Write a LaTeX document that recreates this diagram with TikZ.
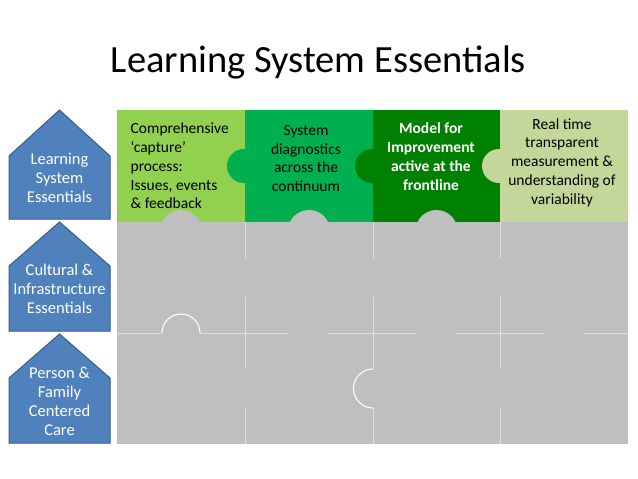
\documentclass[tikz,border=0pt]{standalone}
\usepackage{fontspec}
\setmainfont{Carlito}
\definecolor{lsgreen}{HTML}{92D050}
\definecolor{diaggreen}{HTML}{00B050}
\definecolor{mfigreen}{HTML}{008000}
\definecolor{rtgreen}{HTML}{C4D79B}
\definecolor{piecegray}{HTML}{BFBFBF}
\definecolor{tagblue}{HTML}{4F81BD}
\definecolor{tagedge}{HTML}{385D8A}

\begin{document}
\begin{tikzpicture}[
  x=1pt,y=-1pt,
  tag/.style={fill=tagblue,draw=tagedge,line width=1pt,line join=miter},
  tagtext/.style={align=center,text=white,inner sep=0pt,
    font=\fontsize{16.5}{19}\selectfont},
  cell/.style={inner sep=0pt,font=\fontsize{15.5}{18.8}\selectfont},
  seam/.style={draw=white,line width=.7pt,opacity=.5},
  knob/.style={draw=white,line width=1.1pt}]
\fill[white] (0,0) rectangle (638,479);
\useasboundingbox (0,0) rectangle (638,479);
\node[font=\fontsize{38.5}{46}\selectfont,anchor=base] (title) at (318.5,72)
 {Learning System Essentials};
% row tags
\draw[tag] (9,219)--(9,156)--(59.5,110)--(110,156)--(110,219)--cycle;
\draw[tag] (9,331)--(9,266)--(59.5,222)--(110,266)--(110,331)--cycle;
\draw[tag] (9,443)--(9,378)--(59.5,334)--(110,378)--(110,443)--cycle;
\node[tagtext] (lsetag) at (59.5,178) {Learning\\System\\Essentials};
\node[tagtext] (cietag) at (59.5,289) {Cultural \&\\Infrastructure\\Essentials};
\node[tagtext] (pfctag) at (59.5,401) {Person \&\\Family\\Centered\\Care};
% puzzle pieces
\fill[piecegray] (117,222) rectangle (628,444);
\fill[lsgreen] (117,110) rectangle (245,222);
\fill[diaggreen] (245,110) rectangle (373,222);
\fill[mfigreen] (373,110) rectangle (500,222);
\fill[rtgreen] (500,110) rectangle (628,222);
\fill[diaggreen] (244,166) circle[radius=17pt];
\fill[mfigreen] (372,166) circle[radius=17pt];
\fill[rtgreen] (499,166) circle[radius=17pt];
\foreach \cx in {181,309,436.5}
  \fill[piecegray] (\cx,231) circle[radius=21pt];
% seams
\foreach \sx in {245,373,500}
  \draw[seam] (\sx,222)--(\sx,258) (\sx,297)--(\sx,369) (\sx,408)--(\sx,444);
\draw[seam] (117,333)--(162,333) (200,333)--(289,333) (328,333)--(417,333)
  (456,333)--(544,333) (583,333)--(628,333);
\draw[knob] (162,333) arc[start angle=180,end angle=0,radius=19pt];
\draw[knob] (373,369) arc[start angle=90,end angle=270,radius=19.5pt];
% texts
\node[cell,align=left,anchor=west] (capture) at (130.5,166)
 {Comprehensive\\‘capture’\\process:\\Issues, events\\\& feedback};
\node[cell,align=center] (diag) at (306,158.5)
 {System\\diagnostics\\across the\\continuum};
\node[cell,align=center,text=white,font=\fontsize{15.5}{18.8}\selectfont\bfseries]
 (mfi) at (431,156.5) {Model for\\Improvement\\active at the\\frontline};
\node[cell,align=center] (realtime) at (562,162.5)
 {Real time\\transparent\\measurement \&\\understanding of\\variability};
\end{tikzpicture}
\end{document}
